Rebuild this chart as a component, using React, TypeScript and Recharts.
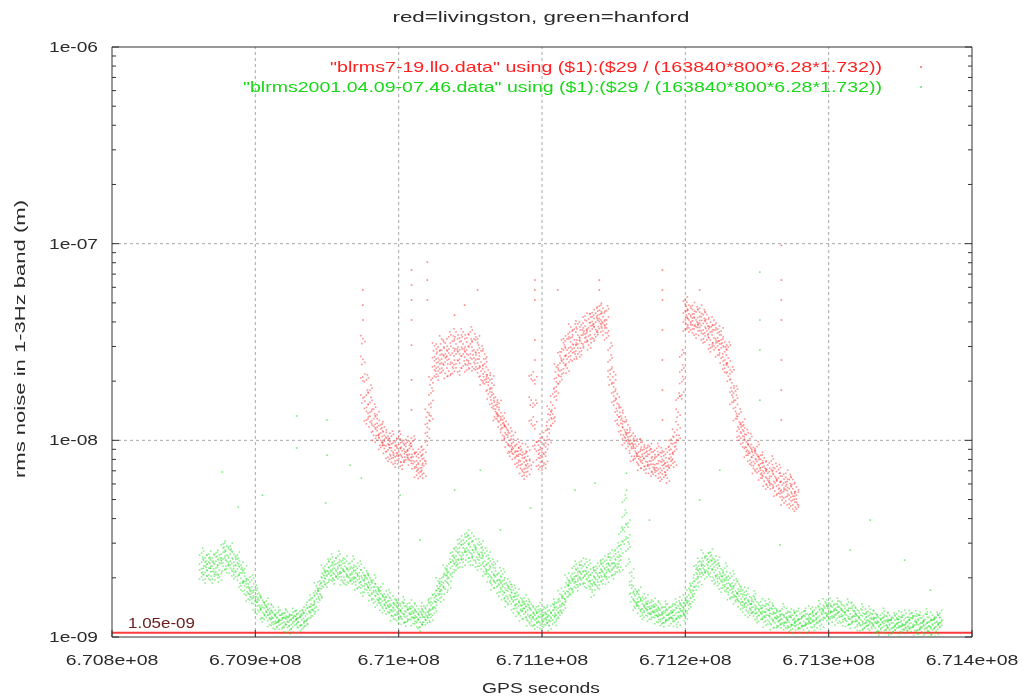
import { ReferenceLine, Scatter, ScatterChart, XAxis, YAxis } from "recharts";

const W = 1018;
const H = 688;
const PLOT_L = 104;
const PLOT_R = 964;
const PLOT_T = 39;
const PLOT_B = 629;
const FONT = '"Liberation Sans", Arial, sans-serif';
const INK = "#2a2a2a";
const AXIS = "#333";
const NM = 1e-9;

const TITLE = "red=livingston, green=hanford";
const LEGEND_RED = '"blrms7-19.llo.data" using ($1):($29 / (163840*800*6.28*1.732))';
const LEGEND_GREEN = '"blrms2001.04.09-07.46.data" using ($1):($29 / (163840*800*6.28*1.732))';
const THRESHOLD = 1.05e-9;
const THRESHOLD_LABEL = "1.05e-09";

const xTicks = [670800000, 670900000, 671000000, 671100000, 671200000, 671300000, 671400000];
const xGrid = [670900000, 671000000, 671100000, 671200000, 671300000];
const yGrid = [1e-8, 1e-7];
const yDecades = [-9, -8, -7];

// livingston, [GPS s, rms nm x4] per time slice
const redColsA = [
  [670975000, 32.9, 25.8, 21.0, 16.4],
  [670977500, 20.3, 17.0, 14.7, 12.7],
  [670980000, 18.0, 15.6, 13.9, 12.4],
  [670982500, 14.4, 12.9, 11.8, 10.6],
  [670985000, 13.5, 12.2, 11.2, 10.0],
  [670987500, 12.0, 10.9, 10.0, 9.2],
  [670990000, 11.7, 10.6, 9.9, 9.1],
  [670992500, 10.5, 9.6, 8.95, 8.2],
  [670995000, 10.5, 9.6, 8.85, 8.1],
  [670997500, 9.8, 8.91, 8.25, 7.65],
  [671000000, 10.5, 9.5, 8.75, 8.05],
  [671002500, 9.8, 8.85, 8.2, 7.47],
  [671005000, 10.1, 9.3, 8.7, 7.97],
  [671007500, 9.9, 9.1, 8.5, 7.93],
  [671010000, 9.9, 9.0, 8.26, 7.6],
  [671012500, 8.7, 7.87, 7.3, 6.65],
  [671015000, 8.7, 7.85, 7.23, 6.55],
  [671017500, 9.0, 8.1, 7.43, 6.8],
  [671020000, 13.9, 12.2, 11.0, 9.9],
  [671022500, 20.3, 17.4, 15.4, 13.3],
  [671025000, 30.2, 26.6, 23.9, 21.2],
  [671027500, 29.8, 26.2, 23.6, 21.2],
  [671030000, 32.8, 28.8, 25.9, 23.3],
  [671032500, 31.2, 27.5, 25.0, 21.9],
  [671035000, 33.6, 29.1, 25.9, 22.5],
  [671037500, 32.0, 27.8, 24.7, 21.9],
  [671040000, 35.6, 30.9, 27.5, 24.5],
  [671042500, 33.2, 28.8, 25.9, 22.5],
  [671045000, 35.6, 30.9, 27.5, 23.9],
  [671047500, 33.2, 28.8, 25.6, 22.8],
  [671050000, 35.6, 30.9, 27.5, 24.5],
  [671052500, 32.8, 28.8, 26.2, 23.1],
  [671055000, 32.8, 28.8, 25.9, 23.1],
  [671057500, 28.5, 25.0, 22.5, 20.3],
  [671060000, 27.5, 24.5, 22.3, 20.3],
  [671062500, 22.8, 20.7, 19.1, 17.2],
  [671065000, 20.5, 18.4, 17.0, 15.4],
  [671067500, 16.6, 15.1, 14.0, 12.9],
  [671070000, 15.4, 14.3, 13.3, 12.4],
  [671072500, 13.3, 12.2, 11.6, 10.6],
  [671075000, 12.5, 11.6, 10.7, 9.8],
  [671077500, 10.9, 10.0, 9.3, 8.7],
  [671080000, 10.6, 9.8, 9.1, 8.5],
  [671082500, 9.55, 8.8, 8.3, 7.65],
  [671085000, 9.3, 8.5, 7.85, 7.2],
  [671087500, 8.5, 7.75, 7.17, 6.65],
  [671090000, 9.25, 8.3, 7.6, 6.95],
  [671092500, 21.5, 16.0, 12.7, 7.47],
  [671095000, 20.3, 15.1, 12.0, 9.45],
  [671097500, 9.9, 8.91, 8.15, 7.47],
];

const redColsB = [
  [671100000, 10.4, 9.1, 8.2, 7.4],
  [671102500, 11.2, 9.7, 8.7, 7.55],
  [671105000, 14.4, 12.7, 11.4, 10.1],
  [671107500, 17.2, 15.1, 13.6, 12.2],
  [671110000, 23.6, 20.8, 18.7, 16.8],
  [671112500, 28.2, 24.7, 22.5, 19.9],
  [671115000, 32.8, 28.8, 25.9, 23.1],
  [671117500, 32.8, 28.8, 25.9, 23.3],
  [671120000, 37.7, 33.2, 29.8, 26.9],
  [671122500, 36.8, 32.4, 29.5, 25.9],
  [671125000, 39.1, 34.3, 30.9, 27.5],
  [671127500, 38.6, 34.3, 31.2, 28.5],
  [671130000, 42.8, 38.1, 34.7, 31.6],
  [671132500, 41.4, 37.3, 33.9, 30.5],
  [671135000, 44.6, 40.2, 36.8, 33.2],
  [671137500, 44.3, 39.9, 36.6, 33.6],
  [671140000, 48.1, 43.6, 40.2, 37.0],
  [671142500, 47.0, 42.5, 39.5, 36.0],
  [671145000, 45.6, 40.9, 37.3, 33.2],
  [671147500, 29.5, 25.6, 22.8, 20.3],
  [671150000, 22.3, 19.6, 17.6, 15.8],
  [671152500, 17.2, 15.4, 14.1, 12.7],
  [671155000, 14.7, 13.3, 12.2, 11.2],
  [671157500, 12.4, 11.3, 10.4, 9.7],
  [671160000, 12.0, 10.9, 10.1, 9.3],
  [671162500, 10.6, 9.7, 9.07, 8.3],
  [671165000, 10.5, 9.55, 8.8, 8.1],
  [671167500, 9.55, 8.7, 8.05, 7.47],
  [671170000, 9.8, 8.91, 8.3, 7.65],
  [671172500, 9.1, 8.3, 7.8, 7.13],
  [671175000, 9.3, 8.5, 7.85, 7.2],
  [671177500, 8.75, 7.93, 7.3, 6.73],
  [671180000, 9.1, 8.26, 7.6, 7.0],
  [671182500, 8.65, 7.8, 7.2, 6.5],
  [671185000, 8.75, 7.87, 7.2, 6.5],
  [671187500, 8.7, 7.75, 7.05, 6.43],
  [671190000, 10.1, 9.0, 8.2, 7.47],
  [671192500, 11.0, 9.7, 8.8, 7.75],
  [671195000, 16.4, 13.9, 12.0, 10.0],
  [671197500, 27.2, 22.8, 19.9, 17.0],
  [671200000, 51.7, 45.4, 40.9, 36.8],
  [671202500, 48.7, 44.0, 40.9, 37.3],
  [671205000, 48.5, 43.8, 40.5, 36.8],
  [671207500, 45.0, 40.9, 37.7, 34.7],
  [671210000, 47.0, 42.6, 39.3, 36.2],
  [671212500, 43.6, 39.3, 36.4, 32.8],
  [671215000, 43.6, 39.3, 36.0, 32.4],
  [671217500, 39.9, 35.6, 32.4, 29.5],
  [671220000, 40.9, 36.4, 33.2, 30.2],
  [671222500, 36.8, 33.2, 30.2, 27.2],
  [671225000, 36.0, 32.4, 29.5, 26.2],
  [671227500, 31.6, 28.2, 25.6, 23.3],
  [671230000, 29.8, 26.2, 23.6, 21.2],
  [671232500, 22.3, 19.6, 17.8, 15.6],
  [671235000, 17.8, 16.0, 14.7, 12.9],
  [671237500, 13.6, 12.4, 11.4, 10.5],
  [671240000, 12.4, 11.3, 10.5, 9.7],
  [671242500, 10.7, 9.8, 9.2, 8.4],
  [671245000, 10.2, 9.3, 8.6, 7.93],
  [671247500, 9.2, 8.4, 7.8, 7.2],
  [671250000, 9.3, 8.45, 7.8, 7.17],
  [671252500, 8.4, 7.6, 7.05, 6.43],
  [671255000, 8.15, 7.4, 6.8, 6.2],
  [671257500, 7.5, 6.8, 6.28, 5.78],
  [671260000, 7.85, 7.1, 6.55, 6.0],
  [671262500, 7.2, 6.55, 6.07, 5.52],
  [671265000, 7.1, 6.43, 5.92, 5.39],
  [671267500, 6.57, 5.92, 5.42, 4.97],
  [671270000, 6.8, 6.13, 5.62, 5.15],
  [671272500, 6.32, 5.68, 5.26, 4.75],
  [671275000, 6.32, 5.68, 5.2, 4.69],
  [671277500, 5.8, 5.26, 4.85, 4.47],
];

// isolated livingston samples above the band, [GPS s, nm]
const redStray = [
  [670975000, 58.1], [670975000, 48.7], [670975000, 40.9],
  [671009000, 73.4], [671009000, 61.6], [671009000, 51.7], [671009000, 40.9], [671009000, 30.5], [671009000, 20.3], [671009000, 14.3],
  [671020000, 80.7], [671020000, 65.3], [671020000, 51.7],
  [671039000, 43.3], [671046000, 48.7], [671055000, 58.1],
  [671095000, 65.3], [671095000, 58.1], [671095000, 51.7], [671095000, 32.4], [671095000, 25.6],
  [671111000, 58.1], [671140000, 65.3], [671140000, 58.1],
  [671184000, 73.4], [671184000, 58.1], [671184000, 51.7], [671184000, 36.4], [671184000, 25.6], [671184000, 18.0], [671184000, 12.7],
  [671210000, 58.1],
  [671267000, 98], [671267000, 65.3], [671267000, 51.7], [671267000, 40.9], [671267000, 25.6], [671267000, 18.0], [671267000, 12.7],
];

// hanford, [GPS s, rms nm x4] per time slice
const greenColsA = [
  [670862500, 2.67, 2.40, 2.22, 2.02],
  [670865000, 2.52, 2.29, 2.13, 1.97],
  [670867500, 2.64, 2.40, 2.24, 2.07],
  [670870000, 2.52, 2.29, 2.16, 1.97],
  [670872500, 2.67, 2.43, 2.24, 2.07],
  [670875000, 2.61, 2.38, 2.19, 2.02],
  [670877500, 2.97, 2.70, 2.49, 2.29],
  [670880000, 2.90, 2.61, 2.43, 2.22],
  [670882500, 2.90, 2.64, 2.43, 2.24],
  [670885000, 2.64, 2.40, 2.23, 2.07],
  [670887500, 2.61, 2.38, 2.22, 2.04],
  [670890000, 2.32, 2.12, 1.99, 1.82],
  [670892500, 2.22, 2.04, 1.91, 1.73],
  [670895000, 1.95, 1.80, 1.67, 1.56],
  [670897500, 1.95, 1.80, 1.67, 1.56],
  [670900000, 1.73, 1.60, 1.51, 1.39],
  [670902500, 1.67, 1.54, 1.45, 1.34],
  [670905000, 1.54, 1.42, 1.33, 1.25],
  [670907500, 1.52, 1.42, 1.34, 1.26],
  [670910000, 1.40, 1.31, 1.24, 1.155],
  [670912500, 1.42, 1.32, 1.25, 1.16],
  [670915000, 1.32, 1.25, 1.185, 1.12],
  [670917500, 1.37, 1.29, 1.22, 1.16],
  [670920000, 1.32, 1.25, 1.19, 1.115],
  [670922500, 1.34, 1.26, 1.19, 1.12],
  [670925000, 1.29, 1.22, 1.155, 1.10],
  [670927500, 1.35, 1.28, 1.20, 1.15],
  [670930000, 1.32, 1.25, 1.19, 1.115],
  [670932500, 1.37, 1.29, 1.22, 1.15],
  [670935000, 1.37, 1.28, 1.20, 1.14],
  [670937500, 1.54, 1.42, 1.34, 1.25],
  [670940000, 1.58, 1.45, 1.37, 1.28],
  [670942500, 1.82, 1.67, 1.56, 1.42],
  [670945000, 1.93, 1.77, 1.66, 1.54],
  [670947500, 2.24, 2.07, 1.93, 1.80],
  [670950000, 2.35, 2.17, 2.04, 1.88],
  [670952500, 2.49, 2.29, 2.14, 1.95],
  [670955000, 2.43, 2.24, 2.09, 1.95],
  [670957500, 2.58, 2.38, 2.22, 2.07],
  [670960000, 2.43, 2.24, 2.12, 1.95],
  [670962500, 2.49, 2.29, 2.14, 1.95],
  [670965000, 2.35, 2.17, 2.02, 1.88],
  [670967500, 2.43, 2.24, 2.09, 1.95],
  [670970000, 2.29, 2.12, 2.00, 1.84],
  [670972500, 2.29, 2.12, 1.97, 1.80],
  [670975000, 2.12, 1.95, 1.82, 1.69],
  [670977500, 2.17, 2.00, 1.86, 1.73],
  [670980000, 2.00, 1.84, 1.73, 1.62],
  [670982500, 1.95, 1.80, 1.69, 1.56],
  [670985000, 1.80, 1.66, 1.55, 1.45],
  [670987500, 1.80, 1.66, 1.56, 1.45],
  [670990000, 1.66, 1.54, 1.46, 1.36],
  [670992500, 1.64, 1.52, 1.44, 1.34],
  [670995000, 1.54, 1.44, 1.35, 1.28],
  [670997500, 1.56, 1.45, 1.37, 1.29],
  [671000000, 1.49, 1.39, 1.31, 1.225],
  [671002500, 1.51, 1.40, 1.32, 1.23],
  [671005000, 1.44, 1.34, 1.26, 1.19],
  [671007500, 1.49, 1.39, 1.31, 1.23],
  [671010000, 1.42, 1.32, 1.255, 1.17],
  [671012500, 1.44, 1.34, 1.26, 1.18],
  [671015000, 1.35, 1.26, 1.19, 1.12],
  [671017500, 1.44, 1.34, 1.26, 1.19],
  [671020000, 1.45, 1.34, 1.26, 1.18],
  [671022500, 1.58, 1.45, 1.37, 1.26],
  [671025000, 1.66, 1.52, 1.42, 1.32],
  [671027500, 1.93, 1.77, 1.66, 1.54],
  [671030000, 2.00, 1.84, 1.73, 1.60],
  [671032500, 2.24, 2.07, 1.93, 1.75],
  [671035000, 2.35, 2.14, 1.99, 1.84],
  [671037500, 2.70, 2.46, 2.29, 2.12],
  [671040000, 2.87, 2.58, 2.40, 2.19],
  [671042500, 3.15, 2.84, 2.61, 2.38],
  [671045000, 3.11, 2.84, 2.61, 2.40],
  [671047500, 3.38, 3.08, 2.84, 2.61],
  [671050000, 3.19, 2.87, 2.67, 2.43],
  [671052500, 3.26, 2.94, 2.70, 2.46],
  [671055000, 2.97, 2.70, 2.49, 2.29],
  [671057500, 2.97, 2.70, 2.52, 2.32],
  [671060000, 2.67, 2.43, 2.28, 2.09],
  [671062500, 2.61, 2.38, 2.19, 2.02],
  [671065000, 2.35, 2.14, 1.99, 1.84],
  [671067500, 2.35, 2.17, 2.02, 1.88],
  [671070000, 2.12, 1.95, 1.84, 1.69],
  [671072500, 2.09, 1.93, 1.80, 1.64],
  [671075000, 1.88, 1.73, 1.62, 1.51],
  [671077500, 1.91, 1.75, 1.64, 1.52],
  [671080000, 1.73, 1.60, 1.51, 1.39],
  [671082500, 1.69, 1.56, 1.47, 1.35],
  [671085000, 1.58, 1.45, 1.36, 1.28],
  [671087500, 1.58, 1.47, 1.39, 1.31],
  [671090000, 1.47, 1.37, 1.30, 1.21],
  [671092500, 1.47, 1.37, 1.29, 1.20],
  [671095000, 1.39, 1.29, 1.22, 1.15],
  [671097500, 1.44, 1.34, 1.26, 1.19],
  [671100000, 1.37, 1.28, 1.21, 1.13],
  [671102500, 1.40, 1.31, 1.23, 1.15],
  [671105000, 1.37, 1.28, 1.20, 1.14],
  [671107500, 1.47, 1.37, 1.29, 1.22],
  [671110000, 1.49, 1.37, 1.29, 1.20],
  [671112500, 1.66, 1.52, 1.42, 1.29],
  [671115000, 1.71, 1.58, 1.47, 1.37],
  [671117500, 2.00, 1.84, 1.71, 1.60],
  [671120000, 2.04, 1.88, 1.77, 1.64],
];

const greenColsB = [
  [671122500, 2.29, 2.12, 1.97, 1.80],
  [671125000, 2.24, 2.07, 1.93, 1.80],
  [671127500, 2.43, 2.24, 2.09, 1.95],
  [671130000, 2.35, 2.17, 2.04, 1.88],
  [671132500, 2.32, 2.14, 2.00, 1.82],
  [671135000, 2.12, 1.95, 1.82, 1.69],
  [671137500, 2.29, 2.12, 1.97, 1.84],
  [671140000, 2.29, 2.12, 2.00, 1.84],
  [671142500, 2.49, 2.29, 2.14, 1.95],
  [671145000, 2.46, 2.27, 2.12, 1.97],
  [671147500, 2.67, 2.46, 2.29, 2.14],
  [671150000, 2.58, 2.38, 2.24, 2.07],
  [671152500, 2.84, 2.55, 2.35, 2.14],
  [671155000, 3.42, 2.94, 2.58, 2.27],
  [671157500, 4.97, 4.17, 3.60, 3.11],
  [671160000, 3.80, 3.19, 2.80, 2.35],
  [671162500, 2.14, 1.93, 1.77, 1.60],
  [671165000, 1.75, 1.62, 1.51, 1.40],
  [671167500, 1.73, 1.60, 1.51, 1.40],
  [671170000, 1.60, 1.47, 1.39, 1.29],
  [671172500, 1.58, 1.47, 1.39, 1.29],
  [671175000, 1.49, 1.39, 1.31, 1.23],
  [671177500, 1.52, 1.42, 1.34, 1.26],
  [671180000, 1.45, 1.35, 1.285, 1.195],
  [671182500, 1.47, 1.37, 1.29, 1.20],
  [671185000, 1.42, 1.32, 1.25, 1.18],
  [671187500, 1.47, 1.37, 1.29, 1.22],
  [671190000, 1.42, 1.32, 1.255, 1.17],
  [671192500, 1.47, 1.37, 1.29, 1.20],
  [671195000, 1.44, 1.34, 1.26, 1.19],
  [671197500, 1.54, 1.44, 1.35, 1.28],
  [671200000, 1.58, 1.45, 1.37, 1.28],
  [671202500, 1.77, 1.64, 1.52, 1.39],
  [671205000, 1.88, 1.73, 1.62, 1.51],
  [671207500, 2.32, 2.12, 1.97, 1.82],
  [671210000, 2.43, 2.22, 2.08, 1.91],
  [671212500, 2.67, 2.43, 2.24, 2.07],
  [671215000, 2.58, 2.35, 2.18, 2.02],
  [671217500, 2.70, 2.46, 2.29, 2.12],
  [671220000, 2.49, 2.27, 2.13, 1.95],
  [671222500, 2.46, 2.24, 2.07, 1.91],
  [671225000, 2.22, 2.04, 1.91, 1.77],
  [671227500, 2.24, 2.07, 1.93, 1.80],
  [671230000, 2.04, 1.88, 1.77, 1.64],
  [671232500, 2.04, 1.88, 1.75, 1.60],
  [671235000, 1.86, 1.71, 1.61, 1.51],
  [671237500, 1.86, 1.71, 1.62, 1.51],
  [671240000, 1.73, 1.60, 1.51, 1.40],
  [671242500, 1.71, 1.58, 1.49, 1.37],
  [671245000, 1.60, 1.47, 1.385, 1.29],
  [671247500, 1.62, 1.51, 1.42, 1.34],
  [671250000, 1.51, 1.40, 1.33, 1.24],
  [671252500, 1.51, 1.40, 1.32, 1.23],
  [671255000, 1.44, 1.34, 1.26, 1.19],
  [671257500, 1.47, 1.37, 1.29, 1.22],
  [671260000, 1.40, 1.31, 1.24, 1.155],
  [671262500, 1.40, 1.32, 1.25, 1.18],
  [671265000, 1.34, 1.26, 1.195, 1.14],
  [671267500, 1.39, 1.31, 1.23, 1.18],
  [671270000, 1.32, 1.25, 1.19, 1.115],
  [671272500, 1.34, 1.26, 1.19, 1.12],
  [671275000, 1.29, 1.22, 1.155, 1.10],
  [671277500, 1.35, 1.28, 1.20, 1.15],
  [671280000, 1.31, 1.23, 1.18, 1.105],
  [671282500, 1.35, 1.28, 1.20, 1.14],
  [671285000, 1.31, 1.23, 1.17, 1.11],
  [671287500, 1.39, 1.31, 1.23, 1.18],
  [671290000, 1.37, 1.28, 1.21, 1.13],
  [671292500, 1.44, 1.34, 1.26, 1.18],
  [671295000, 1.40, 1.31, 1.23, 1.16],
  [671297500, 1.51, 1.40, 1.32, 1.25],
  [671300000, 1.49, 1.39, 1.31, 1.225],
  [671302500, 1.52, 1.42, 1.34, 1.25],
  [671305000, 1.47, 1.37, 1.29, 1.22],
  [671307500, 1.52, 1.42, 1.34, 1.26],
  [671310000, 1.45, 1.35, 1.285, 1.195],
  [671312500, 1.47, 1.37, 1.29, 1.20],
  [671315000, 1.40, 1.31, 1.23, 1.16],
  [671317500, 1.45, 1.35, 1.28, 1.20],
  [671320000, 1.37, 1.28, 1.21, 1.13],
  [671322500, 1.39, 1.29, 1.22, 1.14],
  [671325000, 1.31, 1.23, 1.17, 1.11],
  [671327500, 1.35, 1.28, 1.20, 1.15],
  [671330000, 1.31, 1.23, 1.18, 1.105],
  [671332500, 1.32, 1.25, 1.18, 1.11],
  [671335000, 1.26, 1.19, 1.13, 1.07],
  [671337500, 1.32, 1.25, 1.18, 1.12],
  [671340000, 1.28, 1.20, 1.15, 1.08],
  [671342500, 1.29, 1.22, 1.15, 1.085],
  [671345000, 1.25, 1.18, 1.115, 1.06],
  [671347500, 1.31, 1.23, 1.16, 1.11],
  [671350000, 1.26, 1.19, 1.14, 1.065],
  [671352500, 1.29, 1.22, 1.15, 1.085],
  [671355000, 1.26, 1.19, 1.13, 1.07],
  [671357500, 1.32, 1.25, 1.18, 1.12],
  [671360000, 1.28, 1.20, 1.15, 1.08],
  [671362500, 1.29, 1.22, 1.15, 1.085],
  [671365000, 1.25, 1.18, 1.115, 1.06],
  [671367500, 1.31, 1.23, 1.16, 1.11],
  [671370000, 1.26, 1.19, 1.14, 1.065],
  [671372500, 1.29, 1.22, 1.15, 1.085],
  [671375000, 1.26, 1.19, 1.13, 1.07],
  [671377500, 1.32, 1.25, 1.18, 1.12],
];

const greenStray = [
  [670877000, 6.9], [670888000, 4.58], [670905000, 5.26], [670929000, 13.3], [670929000, 9.14],
  [670950000, 12.7], [670950000, 8.4], [670949000, 4.8], [670966000, 7.47], [670974000, 6.43],
  [671001000, 5.26], [671015000, 3.11], [671039000, 5.58], [671057000, 7.05], [671071000, 3.5],
  [671092000, 4.53], [671123000, 5.58], [671137000, 6.07], [671159000, 6.8], [671159000, 5.58],
  [671175000, 3.93], [671210000, 4.97], [671224000, 7.05], [671252000, 71.7], [671252000, 40.9],
  [671252000, 28.8], [671252000, 16.0], [671252000, 7.23], [671266000, 2.94], [671315000, 2.77],
  [671329000, 3.93], [671353000, 2.46], [671371000, 1.73],
];

type Pt = { t: number; v: number; lone?: boolean };

const toPts = (rows: number[][], lone = false): Pt[] =>
  rows.flatMap(([t, ...ys]) => ys.map((y) => ({ t, v: y * NM, lone })));

const redPts = [...toPts(redColsA), ...toPts(redColsB), ...toPts(redStray, true)];
const greenPts = [...toPts(greenColsA), ...toPts(greenColsB), ...toPts(greenStray, true)];

const yTicks: number[] = [];
yDecades.forEach((d) => {
  for (let k = 1; k <= 9; k++) yTicks.push(k * Math.pow(10, d));
});
yTicks.push(1e-6);

const isMajor = (v: number) => Math.abs(Math.log10(v) - Math.round(Math.log10(v))) < 1e-6;
const fmtX = (v: number) => `${+(v / 1e8).toFixed(4)}e+08`;
const fmtY = (v: number) => `1e-${String(-Math.round(Math.log10(v))).padStart(2, "0")}`;

const txt = { fontFamily: FONT, fontSize: 15, fill: INK };

function BottomTick(props: any) {
  const { x, payload } = props;
  const label = fmtX(payload.value);
  return (
    <g>
      <line x1={x} x2={x} y1={PLOT_B} y2={PLOT_B - 7} stroke={AXIS} />
      <text x={x} y={PLOT_B + 28} textAnchor="middle" textLength={label.length * 10.3} lengthAdjust="spacingAndGlyphs" {...txt}>
        {label}
      </text>
    </g>
  );
}

function TopTick(props: any) {
  const { x } = props;
  return <line x1={x} x2={x} y1={PLOT_T} y2={PLOT_T + 7} stroke={AXIS} />;
}

function LeftTick(props: any) {
  const { y, payload } = props;
  const major = isMajor(payload.value);
  return (
    <g>
      <line x1={PLOT_L} x2={PLOT_L + (major ? 7 : 4)} y1={y} y2={y} stroke={AXIS} />
      {major ? (
        <text x={PLOT_L - 14} y={y + 5} textAnchor="end" textLength={49} lengthAdjust="spacingAndGlyphs" {...txt}>
          {fmtY(payload.value)}
        </text>
      ) : null}
    </g>
  );
}

function RightTick(props: any) {
  const { y, payload } = props;
  const major = isMajor(payload.value);
  return <line x1={PLOT_R} x2={PLOT_R - (major ? 7 : 4)} y1={y} y2={y} stroke={AXIS} />;
}

// each sample drawn as a small speckle, like the pixel dots of the original plot
const SPECKS = [
  [[0, 0], [-2, -3], [2, 3], [-1, 5]],
  [[0, 0], [2, -2], [-2, 2], [1, -5]],
  [[0, 0], [-2, 1], [2, -3], [0, 4]],
];

const speckle = (fill: string) => (props: { cx?: number; cy?: number; payload?: Pt }) => {
  const { cx, cy, payload } = props;
  if (cx == null || cy == null) return <g />;
  if (payload?.lone) return <rect x={cx - 0.8} y={cy - 0.8} width={1.6} height={1.6} fill={fill} fillOpacity={0.6} />;
  const pat = SPECKS[Math.abs(Math.round(cx * 3 + cy)) % 3];
  return (
    <g>
      {pat.map(([dx, dy], i) => (
        <rect key={i} x={cx + dx - 0.8} y={cy + dy - 0.8} width={1.6} height={1.6} fill={fill} fillOpacity={0.5} />
      ))}
    </g>
  );
};

export default function App() {
  return (
    <div style={{ position: "relative", width: W, height: H, background: "#fff", filter: "blur(0.35px)" }}>
      <ScatterChart width={W} height={H} margin={{ top: PLOT_T - 10, right: W - PLOT_R - 10, bottom: H - PLOT_B - 40, left: PLOT_L - 60 }}>
        <XAxis
          type="number"
          dataKey="t"
          domain={[670800000, 671400000]}
          ticks={xTicks}
          interval={0}
          height={40}
          tickSize={0}
          tickLine={false}
          axisLine={{ stroke: AXIS }}
          tick={(p: any) => <BottomTick {...p} />}
          allowDataOverflow
        />
        <XAxis
          xAxisId="top"
          orientation="top"
          type="number"
          domain={[670800000, 671400000]}
          ticks={xTicks}
          interval={0}
          height={10}
          tickSize={0}
          tickLine={false}
          axisLine={{ stroke: AXIS }}
          tick={(p: any) => <TopTick {...p} />}
          allowDataOverflow
        />
        <YAxis
          type="number"
          dataKey="v"
          scale="log"
          domain={[1e-9, 1e-6]}
          ticks={yTicks}
          interval={0}
          width={60}
          tickSize={0}
          tickLine={false}
          axisLine={{ stroke: AXIS }}
          tick={(p: any) => <LeftTick {...p} />}
          allowDataOverflow
        />
        <YAxis
          yAxisId="right"
          orientation="right"
          type="number"
          scale="log"
          domain={[1e-9, 1e-6]}
          ticks={yTicks}
          interval={0}
          width={10}
          tickSize={0}
          tickLine={false}
          axisLine={{ stroke: AXIS }}
          tick={(p: any) => <RightTick {...p} />}
          allowDataOverflow
        />
        {xGrid.map((x) => (
          <ReferenceLine key={`gx${x}`} x={x} stroke="#a8a8a8" strokeDasharray="3 3" />
        ))}
        {yGrid.map((y) => (
          <ReferenceLine key={`gy${y}`} y={y} stroke="#a8a8a8" strokeDasharray="3 3" />
        ))}
        <ReferenceLine y={THRESHOLD} stroke="#ff3b3b" strokeWidth={2} />
        <Scatter data={greenPts} isAnimationActive={false} shape={speckle("#22e022")} />
        <Scatter data={redPts} isAnimationActive={false} shape={speckle("#ff2a2a")} />
      </ScatterChart>
      <svg width={W} height={H} style={{ position: "absolute", left: 0, top: 0, pointerEvents: "none" }}>
        <text x={533} y={14} textAnchor="middle" textLength={297} lengthAdjust="spacingAndGlyphs" {...txt}>
          {TITLE}
        </text>
        <text x={874} y={64} textAnchor="end" textLength={552} lengthAdjust="spacingAndGlyphs" {...txt} fill="#ff2020">
          {LEGEND_RED}
        </text>
        <text x={874} y={84} textAnchor="end" textLength={639} lengthAdjust="spacingAndGlyphs" {...txt} fill="#18d818">
          {LEGEND_GREEN}
        </text>
        <rect x={912} y={58} width={2} height={2} fill="#ff2a2a" fillOpacity={0.55} />
        <rect x={912} y={78} width={2} height={2} fill="#22e022" fillOpacity={0.55} />
        <text x={120} y={620} textLength={67} lengthAdjust="spacingAndGlyphs" {...txt} fill="#6a2020">
          {THRESHOLD_LABEL}
        </text>
        <text x={533} y={685} textAnchor="middle" textLength={118} lengthAdjust="spacingAndGlyphs" {...txt}>
          GPS seconds
        </text>
        <text
          x={17}
          y={331}
          textAnchor="middle"
          transform="rotate(-90 17 331)"
          textLength={278}
          lengthAdjust="spacingAndGlyphs"
          {...txt}
        >
          rms noise in 1-3Hz band (m)
        </text>
      </svg>
    </div>
  );
}
